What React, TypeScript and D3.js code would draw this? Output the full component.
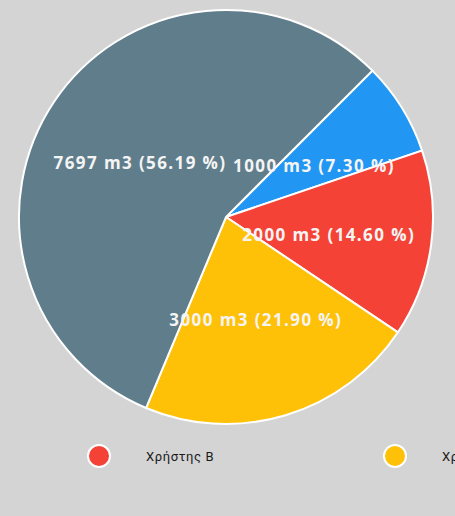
import * as d3 from "d3"
import { useRef, useEffect } from "react"

const users = ["Χρήστης Α", "Χρήστης Β", "Χρήστης Γ", "Υπόλοιπο"]
const volumes = [1000, 2000, 3000, 7697]
const colors = ["#2196f3", "#f44336", "#ffc107", "#607d8b"]

const W = 455
const H = 516

export default function App() {
  const svgRef = useRef<SVGSVGElement>(null)

  useEffect(() => {
    if (!svgRef.current) return
    const svg = d3.select(svgRef.current)
    svg.selectAll("*").remove()

    svg.append("rect").attr("width", W).attr("height", H).attr("fill", "#d4d4d4")

    const cx = 226
    const cy = 217
    const radius = 207
    const total = d3.sum(volumes)

    const pie = d3
      .pie<number>()
      .sort(null)
      .startAngle(Math.PI / 4)
      .endAngle(Math.PI / 4 + 2 * Math.PI)
    const arcs = pie(volumes)

    const arc = d3.arc<d3.PieArcDatum<number>>().innerRadius(0).outerRadius(radius)
    const labelArc = d3
      .arc<d3.PieArcDatum<number>>()
      .innerRadius(radius / 2)
      .outerRadius(radius / 2)

    const g = svg.append("g").attr("transform", `translate(${cx},${cy})`)

    g.selectAll("path")
      .data(arcs)
      .enter()
      .append("path")
      .attr("d", arc)
      .attr("fill", (_d, i) => colors[i])
      .attr("stroke", "#ffffff")
      .attr("stroke-width", 2)

    g.selectAll("text")
      .data(arcs)
      .enter()
      .append("text")
      .attr("transform", (d) => `translate(${labelArc.centroid(d)})`)
      .attr("text-anchor", "middle")
      .attr("dy", "10px")
      .style("font-family", "'Open Sans', sans-serif")
      .style("font-weight", "bold")
      .style("font-size", "17px")
      .style("letter-spacing", "1.4px")
      .style("fill", "#f4f4f4")
      .text((d) => `${d.data} m3 (${((d.data / total) * 100).toFixed(2)} %)`)

    // legend, scrolled so the second item sits at the left
    const legendY = 456
    const legendStep = 296
    const legendX0 = 99 - legendStep
    const legend = svg.append("g")
    users.forEach((name, i) => {
      const x = legendX0 + legendStep * i
      legend
        .append("circle")
        .attr("cx", x)
        .attr("cy", legendY)
        .attr("r", 11)
        .attr("fill", colors[i])
        .attr("stroke", "#ffffff")
        .attr("stroke-width", 2)
      legend
        .append("text")
        .attr("x", x + 47)
        .attr("y", legendY)
        .attr("dy", "0.35em")
        .style("font-family", "Roboto, sans-serif")
        .style("font-size", "13px")
        .style("letter-spacing", "0.6px")
        .style("fill", "#1a1a1a")
        .text(name)
    })
  }, [])

  return (
    <div style={{ position: "fixed", left: 0, top: 0, width: W, height: H }}>
      <svg ref={svgRef} width={W} height={H} style={{ display: "block" }}></svg>
    </div>
  )
}
